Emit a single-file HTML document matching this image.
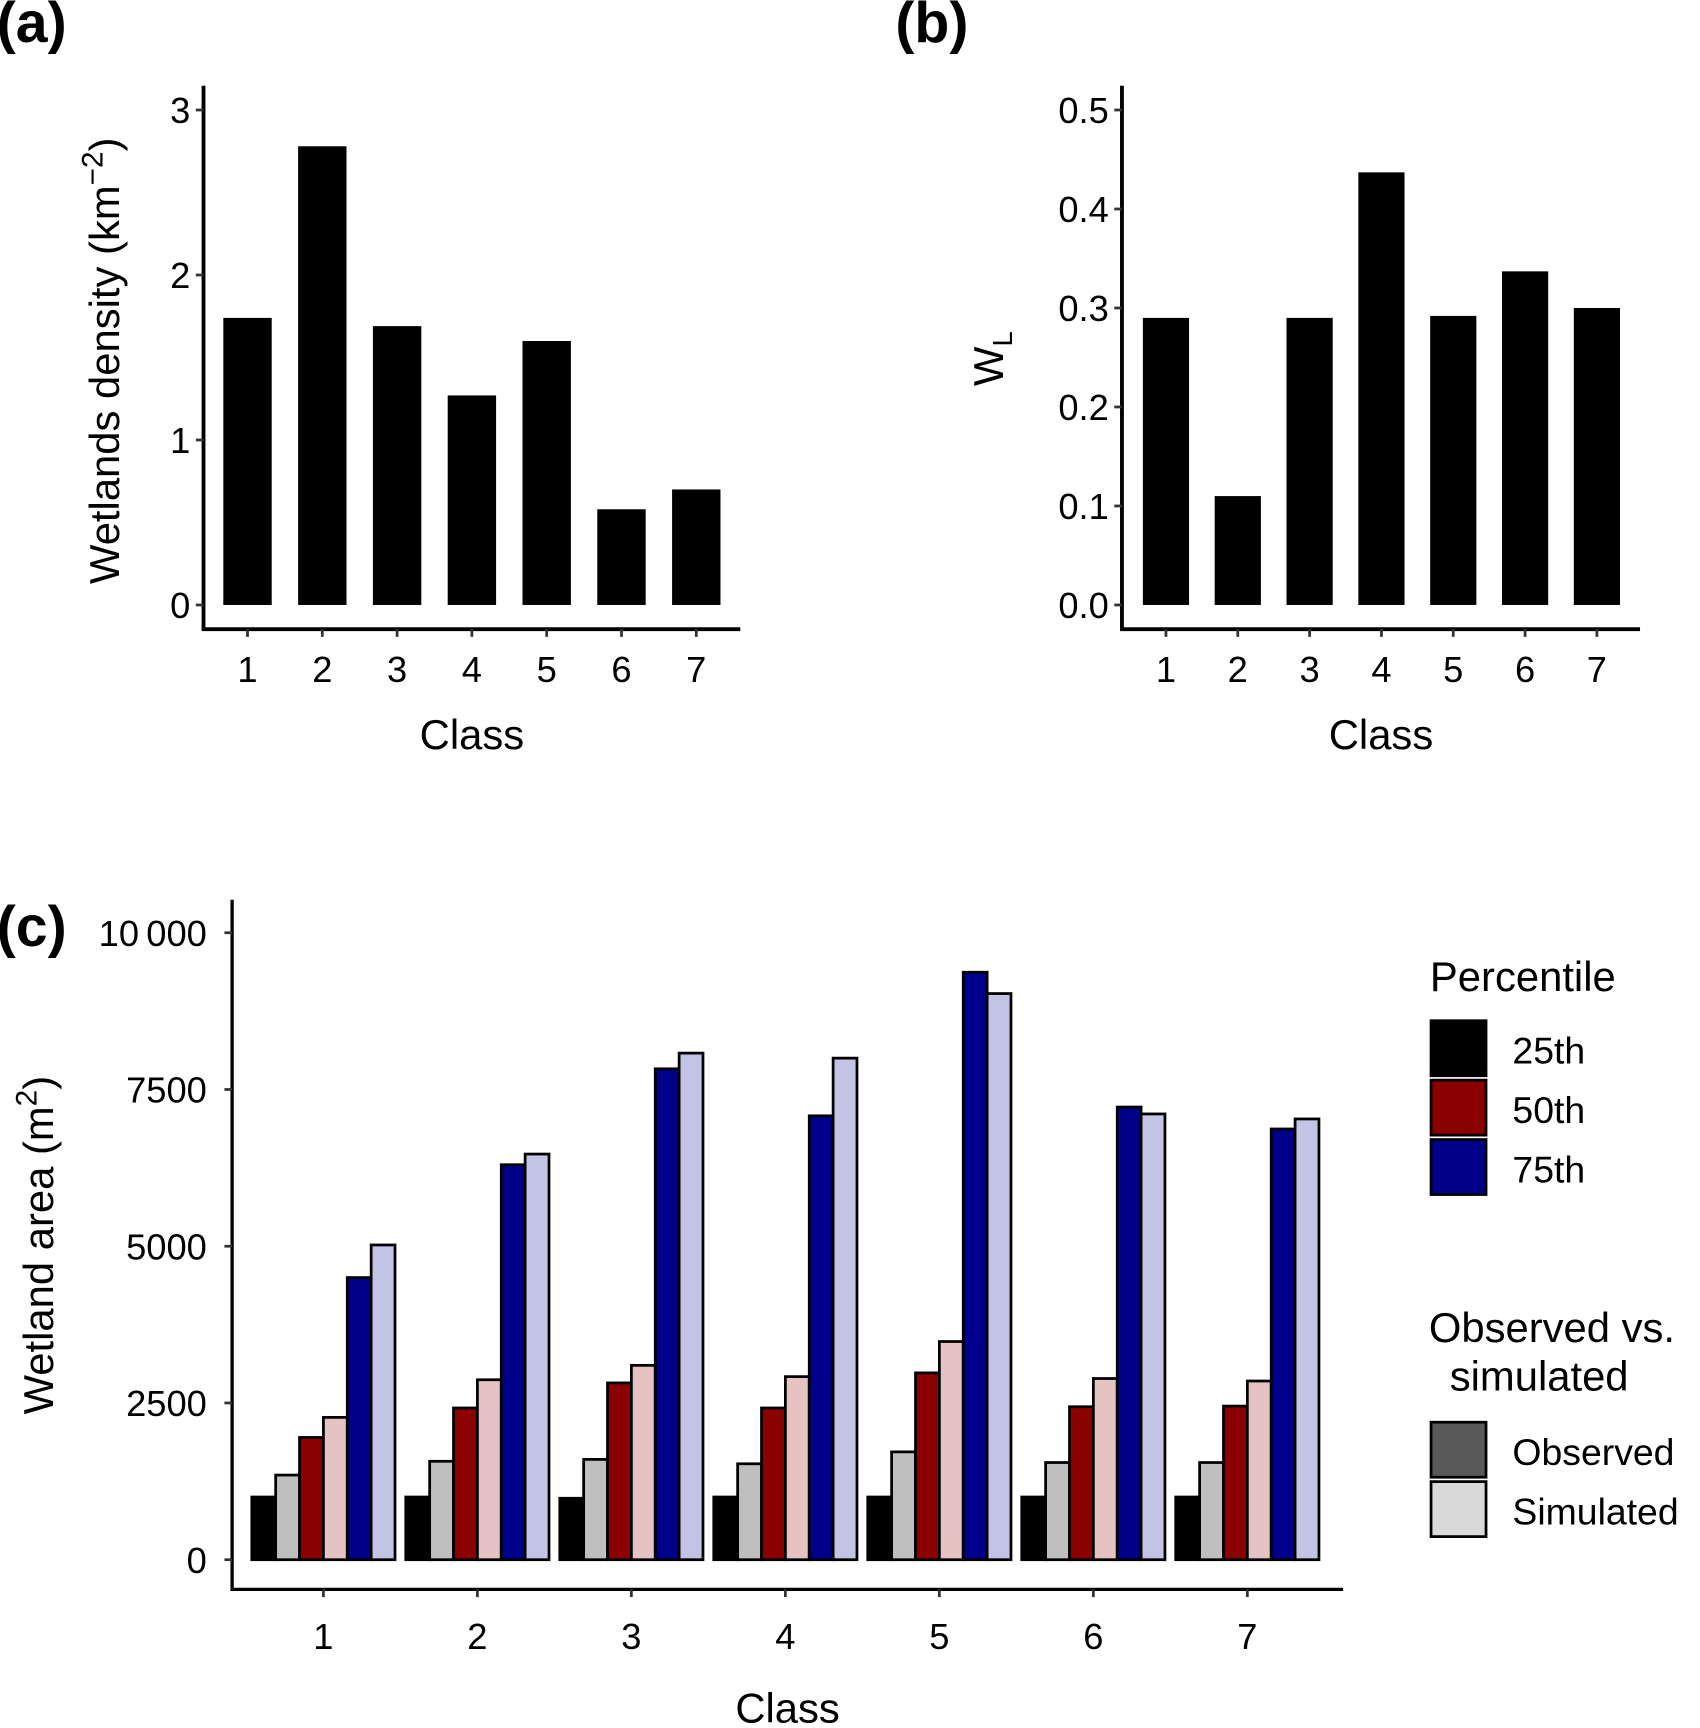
<!DOCTYPE html>
<html><head><meta charset="utf-8"><style>
html,body{margin:0;padding:0;background:#fff}
svg{display:block;font-family:"Liberation Sans",Arial,sans-serif}
</style></head><body>
<svg id="fig" width="1700" height="1728" viewBox="0 0 1545.5 1571" xmlns="http://www.w3.org/2000/svg">
<g id="pa"></g>
<g id="pb"></g>
<g id="pc"></g>
</svg>
<script>
const classes = [1,2,3,4,5,6,7];
const densityValues = [1.74,2.78,1.69,1.27,1.60,0.58,0.70];
const densityTicks = [0,1,2,3];
const wlValues = [0.29,0.11,0.29,0.437,0.292,0.337,0.30];
const wlTicks = [0.0,0.1,0.2,0.3,0.4,0.5];
const obs25 = [1000,1000,980,1000,1000,1000,1000];
const sim25 = [1350,1570,1600,1530,1720,1550,1550];
const obs50 = [1950,2420,2820,2420,2980,2440,2450];
const sim50 = [2270,2870,3100,2920,3480,2890,2850];
const obs75 = [4500,6300,7830,7080,9370,7220,6870];
const sim75 = [5020,6470,8080,8000,9030,7110,7030];
const areaTicks = [0,2500,5000,7500,10000];
const areaTickLabels = ["0","2500","5000","7500","10\u2009000"];

const NS="http://www.w3.org/2000/svg";
function mk(parent,tag,attrs,text){const e=document.createElementNS(NS,tag);for(const k in attrs)e.setAttribute(k,attrs[k]);if(text!==undefined)e.textContent=text;parent.appendChild(e);return e;}

function simplePanel(g,o){
  const y=v=>o.y0-(v-o.vmin)*o.pxPerUnit;
  const x=i=>o.x1+i*o.step;
  o.values.forEach((v,i)=>{
    const r=mk(g,'rect',{x:x(i)-o.bw/2,y:y(v),width:o.bw,height:y(0)-y(v),fill:'#000'});
    
    
  });
  const ax=mk(g,'path',{d:`M${o.ax},${o.top}V${o.axY}H${o.right}`,stroke:'#000','stroke-width':3.5,fill:'none'});
  
  o.ticks.forEach((t,i)=>{
    mk(g,'line',{x1:o.ax-7,x2:o.ax,y1:y(t),y2:y(t),stroke:'#333','stroke-width':2.5});
    const tx=mk(g,'text',{x:o.ax-12,y:y(t)+12,'text-anchor':'end','font-size':33,fill:'#000'},o.fmt(t));
    
  });
  classes.forEach((c,i)=>{
    mk(g,'line',{x1:x(i),x2:x(i),y1:o.axY,y2:o.axY+7,stroke:'#333','stroke-width':2.5});
    const tx=mk(g,'text',{x:x(i),y:o.axY+48,'text-anchor':'middle','font-size':33},c);
    
  });
  const xt=mk(g,'text',{x:(o.ax+o.right)/2,y:681,'text-anchor':'middle','font-size':38},'Class');
  
}
const pa=document.getElementById('pa');
simplePanel(pa,{values:densityValues,ticks:densityTicks,fmt:t=>String(t),vmin:0,pxPerUnit:150,y0:550,x1:225,step:68,bw:44,ax:185,top:78,axY:572,right:673});
const pb=document.getElementById('pb');
simplePanel(pb,{values:wlValues,ticks:wlTicks,fmt:t=>t.toFixed(1),vmin:0,pxPerUnit:900,y0:550,x1:1060,step:65.3,bw:42,ax:1020,top:78,axY:572,right:1491});

let t;
t=mk(pa,'text',{x:-3,y:38,'font-size':52,'font-weight':'bold'},'(a)');
t=mk(pb,'text',{x:814,y:38,'font-size':52,'font-weight':'bold'},'(b)');
t=mk(pa,'text',{transform:'translate(108,328) rotate(-90)','text-anchor':'middle','font-size':38});
t.innerHTML='Wetlands density (km<tspan dy="-15" font-size="27">\u22122</tspan><tspan dy="15">)</tspan>';

t=mk(pb,'text',{transform:'translate(912,326) rotate(-90)','text-anchor':'middle','font-size':38});
t.innerHTML='W<tspan dy="8" font-size="25">L</tspan>';


// panel c
const pc=document.getElementById('pc');
const cy=v=>1418-v*0.057;
const cx=i=>294+i*140;
const bw=21.7;
const series=[[obs25,'#000000'],[sim25,'#bfbfbf'],[obs50,'#8b0000'],[sim50,'#e6c3c3'],[obs75,'#00008b'],[sim75,'#c3c3e6']];
const sNames=['25th-observed','25th-simulated','50th-observed','50th-simulated','75th-observed','75th-simulated'];
series.forEach((s,si)=>{
  s[0].forEach((v,i)=>{
    const x0=cx(i)-3*bw+si*bw;
    const r=mk(pc,'rect',{x:x0,y:cy(v),width:bw,height:cy(0)-cy(v),fill:s[1],stroke:'#000','stroke-width':2.5});
    
    
  });
});
t=mk(pc,'path',{d:'M211,818V1445H1221',stroke:'#000','stroke-width':3,fill:'none'});
areaTicks.forEach((v,i)=>{
  mk(pc,'line',{x1:204,x2:211,y1:cy(v),y2:cy(v),stroke:'#333','stroke-width':2.5});
  const tx=mk(pc,'text',{x:188,y:cy(v)+12,'text-anchor':'end','font-size':33},areaTickLabels[i]);
  
});
classes.forEach((c,i)=>{
  mk(pc,'line',{x1:cx(i),x2:cx(i),y1:1445,y2:1452,stroke:'#333','stroke-width':2.5});
  const tx=mk(pc,'text',{x:cx(i),y:1499,'text-anchor':'middle','font-size':33},c);
  
});
t=mk(pc,'text',{x:716,y:1566,'text-anchor':'middle','font-size':38},'Class');
t=mk(pc,'text',{x:-3,y:860,'font-size':52,'font-weight':'bold'},'(c)');
t=mk(pc,'text',{transform:'translate(48,1132) rotate(-90)','text-anchor':'middle','font-size':38});
t.innerHTML='Wetland area (m<tspan dy="-15" font-size="27">2</tspan><tspan dy="15">)</tspan>';


// legends
t=mk(pc,'text',{x:1300,y:901,'font-size':38},'Percentile');
[['25th','#000000'],['50th','#8b0000'],['75th','#00008b']].forEach((d,i)=>{
  const r=mk(pc,'rect',{x:1301,y:928+i*54,width:50,height:50,fill:d[1],stroke:'#000','stroke-width':2.5});
  
  const tx=mk(pc,'text',{x:1375,y:967+i*54,'font-size':34},d[0]);
  
});
t=mk(pc,'text',{x:1299,y:1220,'font-size':38},'Observed vs.');
t=mk(pc,'text',{x:1318,y:1264,'font-size':38},'simulated');
[['Observed','#595959'],['Simulated','#d9d9d9']].forEach((d,i)=>{
  const r=mk(pc,'rect',{x:1301,y:1293+i*54,width:50,height:50,fill:d[1],stroke:'#000','stroke-width':2.5});
  
  const tx=mk(pc,'text',{x:1375,y:1332+i*54,'font-size':34},d[0]);
  
});
</script>
</body></html>
